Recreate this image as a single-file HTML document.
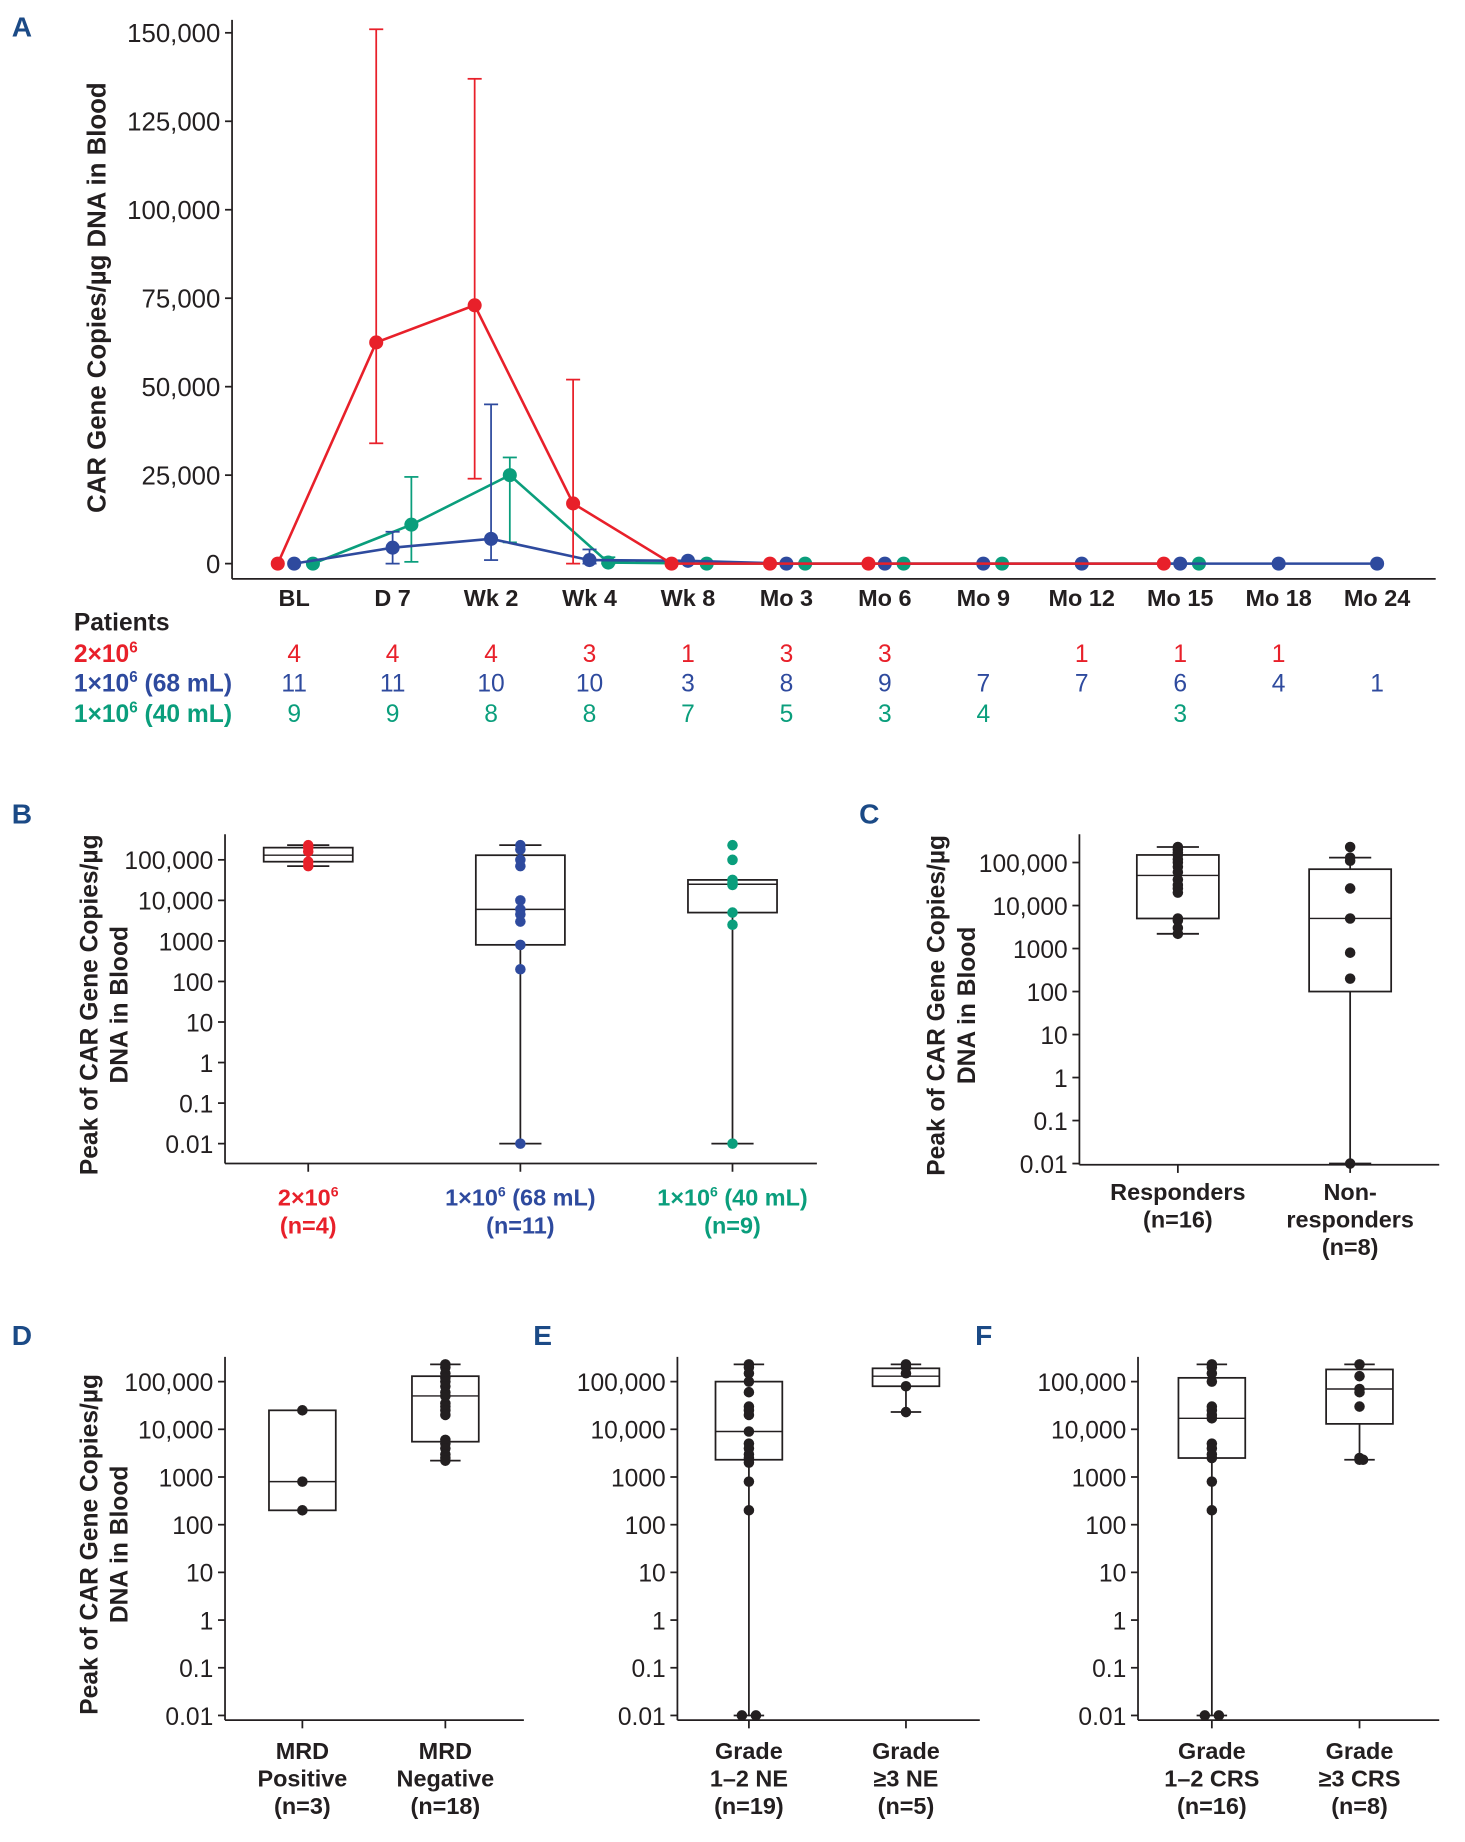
<!DOCTYPE html>
<html><head><meta charset="utf-8"><style>
html,body{margin:0;padding:0;background:#fff}
svg{display:block}
text{font-family:"Liberation Sans",Arial,sans-serif;fill:#231f20}
</style></head><body>
<svg id="fig" width="1465" height="1842" viewBox="0 0 1250 1572" preserveAspectRatio="none" xmlns="http://www.w3.org/2000/svg"></svg>
<script>
// ---------- Panel A data ----------
const timepoints = ["BL","D 7","Wk 2","Wk 4","Wk 8","Mo 3","Mo 6","Mo 9","Mo 12","Mo 15","Mo 18","Mo 24"];
const aTicks = [0,25000,50000,75000,100000,125000,150000];
const redMean = [0,62500,73000,17000,0,0,0,null,null,0,null,null];
const redLo   = [null,34000,24000,0,null,null,null,null,null,null,null,null];
const redHi   = [null,151000,137000,52000,null,null,null,null,null,null,null,null];
const blueMean = [0,4500,7000,1000,800,0,0,0,0,0,0,0];
const blueLo   = [null,0,1000,0,null,null,null,null,null,null,null,null];
const blueHi   = [null,9000,45000,4000,null,null,null,null,null,null,null,null];
const greenMean = [0,11000,25000,300,0,0,0,0,null,0,null,null];
const greenLo   = [null,500,6000,0,null,null,null,null,null,null,null,null];
const greenHi   = [null,24500,30000,1800,null,null,null,null,null,null,null,null];
const nRed   = ["4","4","4","3","1","3","3","","1","1","1",""];
const nBlue  = ["11","11","10","10","3","8","9","7","7","6","4","1"];
const nGreen = ["9","9","8","8","7","5","3","4","","3","",""];

// ---------- Box panel data ----------
const logTicks = [0.01,0.1,1,10,100,1000,10000,100000];
const logTickLabels = ["0.01","0.1","1","10","100","1000","10,000","100,000"];
const bStats = [[70000,90000,130000,200000,230000],[0.01,800,6000,130000,230000],[0.01,5000,25000,32000,32000]];
const bPts = [[230000,200000,160000,90000,70000],[230000,180000,100000,70000,10000,6000,4500,3000,800,200,0.01],[230000,100000,32000,28000,25000,24000,5000,2500,0.01]];
const cStats = [[2200,5000,50000,150000,230000],[0.01,100,5000,70000,130000]];
const cPts = [[230000,200000,170000,150000,120000,100000,80000,60000,40000,30000,25000,20000,5000,4500,3000,2200],[230000,130000,110000,25000,5000,800,200,0.01]];
const dStats = [[200,200,800,25000,25000],[2200,5500,50000,130000,230000]];
const dPts = [[25000,800,200],[230000,200000,150000,120000,100000,80000,60000,50000,35000,30000,25000,20000,6000,5000,4000,3000,2500,2200]];
const eStats = [[0.01,2300,9000,100000,230000],[23000,80000,130000,190000,230000]];
const ePts = [[230000,200000,150000,100000,60000,30000,25000,20000,9000,5000,4000,3000,2500,2300,800,200,0.01,0.01,2000],[230000,200000,150000,80000,23000]];
const fStats = [[0.01,2500,17000,120000,230000],[2300,13000,70000,180000,230000]];
const fPts = [[230000,200000,150000,100000,30000,25000,20000,17000,5000,4000,3000,2500,800,200,0.01,0.01],[230000,130000,70000,60000,30000,2500,2300,2300]];

const RED="#e8202a", BLUE="#2e4a9e", GREEN="#0a9e7c", INK="#231f20", LET="#1b4a86";
const svg=document.getElementById('fig');
const NS="http://www.w3.org/2000/svg";
function mk(tag,attrs,parent){const e=document.createElementNS(NS,tag);for(const k in attrs)e.setAttribute(k,attrs[k]);(parent||svg).appendChild(e);return e;}
function txt(s,x,y,o,parent){const e=mk('text',Object.assign({x:x,y:y},o||{}),parent);e.textContent=s;return e;}
function fmt(v){return v.toLocaleString('en-US');}

// ---------- Panel A ----------
const gA=mk('g',{});


const aX0=251, aDX=84;
function ax(i){return aX0+i*aDX;}
function ay(v){return 481-v*(453/150000);}
let t=txt('A',10,31,{'font-size':24,'font-weight':'bold',style:'fill:'+LET},gA);

mk('line',{x1:198,y1:17,x2:198,y2:494,stroke:INK,'stroke-width':1.5},gA);
mk('line',{x1:198,y1:494,x2:1225,y2:494,stroke:INK,'stroke-width':1.5},gA);
aTicks.forEach(v=>{
  mk('line',{x1:192,y1:ay(v),x2:198,y2:ay(v),stroke:INK,'stroke-width':1.5},gA);
  const e=txt(fmt(v),188,ay(v)+8,{'text-anchor':'end','font-size':22},gA);
  
});
t=txt('CAR Gene Copies/µg DNA in Blood',0,0,{'font-size':22,'font-weight':'bold','text-anchor':'middle',transform:'translate(90,254) rotate(-90)'},gA);

timepoints.forEach((c,i)=>{
  const e=txt(c,ax(i),517,{'text-anchor':'middle','font-size':20,'font-weight':'bold'},gA);
  
});
function series(mean,lo,hi,col,off,name){
  const g=mk('g',{},gA);
  
  
  let pts=[];mean.forEach((v,i)=>{if(v!==null)pts.push((ax(i)+off)+','+ay(v));});
  mk('polyline',{points:pts.join(' '),fill:'none',stroke:col,'stroke-width':2.2},g);
  mean.forEach((v,i)=>{
    if(lo[i]!==null){const x=ax(i)+off;
      mk('line',{x1:x,y1:ay(lo[i]),x2:x,y2:ay(hi[i]),stroke:col,'stroke-width':1.5},g);
      mk('line',{x1:x-6,y1:ay(lo[i]),x2:x+6,y2:ay(lo[i]),stroke:col,'stroke-width':1.5},g);
      mk('line',{x1:x-6,y1:ay(hi[i]),x2:x+6,y2:ay(hi[i]),stroke:col,'stroke-width':1.5},g);}
  });
  mean.forEach((v,i)=>{if(v!==null){const c=mk('circle',{cx:ax(i)+off,cy:ay(v),r:6,fill:col},g);
    }});
}
series(greenMean,greenLo,greenHi,GREEN,16,'series-1e6-40ml');
series(blueMean,blueLo,blueHi,BLUE,0,'series-1e6-68ml');
series(redMean,redLo,redHi,RED,-14,'series-2e6');
// patients table
const gT=mk('g',{});


txt('Patients',63,538,{'font-size':21,'font-weight':'bold'},gT);
const rows=[[nRed,RED,'2×10',565],[nBlue,BLUE,'1×10',590],[nGreen,GREEN,'1×10',616]];
const suff=['',' (68 mL)',' (40 mL)'];
rows.forEach((r,k)=>{
  const e=mk('text',{x:63,y:r[3],'font-size':21,'font-weight':'bold',style:'fill:'+r[1]},gT);
  
  e.innerHTML=r[2]+'<tspan dy="-8" font-size="13">6</tspan><tspan dy="8">'+suff[k]+'</tspan>';
  r[0].forEach((v,i)=>{if(v){const c=txt(v,ax(i),r[3],{'text-anchor':'middle','font-size':21,style:'fill:'+r[1]},gT);
    }});
});

// ---------- Box panels ----------
function boxPanel(cfg){
  const g=mk('g',{});
  
  
  const ly=v=>cfg.y0-(Math.log10(v)+2)*cfg.dec;
  const l=txt(cfg.letter,cfg.lx,cfg.ly,{'font-size':24,'font-weight':'bold',style:'fill:'+LET},g);
  
  mk('line',{x1:cfg.axX,y1:cfg.top,x2:cfg.axX,y2:cfg.bot,stroke:INK,'stroke-width':1.5},g);
  mk('line',{x1:cfg.axX,y1:cfg.bot,x2:cfg.right,y2:cfg.bot,stroke:INK,'stroke-width':1.5},g);
  logTicks.forEach((v,i)=>{
    mk('line',{x1:cfg.axX-6,y1:ly(v),x2:cfg.axX,y2:ly(v),stroke:INK,'stroke-width':1.5},g);
    const e=txt(logTickLabels[i],cfg.axX-10,ly(v)+8,{'text-anchor':'end','font-size':21},g);
    
  });
  if(cfg.title){
    const yc=(cfg.top+cfg.bot)/2+5;
    const a=txt('Peak of CAR Gene Copies/µg',0,0,{'font-size':21,'font-weight':'bold','text-anchor':'middle',transform:'translate('+cfg.tx+','+yc+') rotate(-90)'},g);
    
    const b=txt('DNA in Blood',0,0,{'font-size':21,'font-weight':'bold','text-anchor':'middle',transform:'translate('+(cfg.tx+26)+','+yc+') rotate(-90)'},g);
    
  }
  cfg.stats.forEach((s,i)=>{
    const x=cfg.cx[i], hw=cfg.hw, cw=cfg.cw;
    mk('line',{x1:x,y1:cfg.bot,x2:x,y2:cfg.bot+7,stroke:INK,'stroke-width':1.5},g);
    const bg=mk('g',{},g);
    
    
    mk('line',{x1:x,y1:ly(s[0]),x2:x,y2:ly(s[1]),stroke:INK,'stroke-width':1.5},bg);
    mk('line',{x1:x,y1:ly(s[3]),x2:x,y2:ly(s[4]),stroke:INK,'stroke-width':1.5},bg);
    if(s[0]!==s[1]) mk('line',{x1:x-cw,y1:ly(s[0]),x2:x+cw,y2:ly(s[0]),stroke:INK,'stroke-width':1.5},bg);
    if(s[4]!==s[3]) mk('line',{x1:x-cw,y1:ly(s[4]),x2:x+cw,y2:ly(s[4]),stroke:INK,'stroke-width':1.5},bg);
    mk('rect',{x:x-hw,y:ly(s[3]),width:2*hw,height:ly(s[1])-ly(s[3]),fill:'none',stroke:INK,'stroke-width':1.5},bg);
    mk('line',{x1:x-hw,y1:ly(s[2]),x2:x+hw,y2:ly(s[2]),stroke:INK,'stroke-width':1.2},bg);
    const col=cfg.colors[i];
    const seen={};
    cfg.pts[i].forEach(v=>{
      const k=v;seen[k]=(seen[k]||0)+1;
      const off=(v===0.01)?(seen[k]===1?(cfg.pts[i].filter(q=>q===0.01).length>1?-6:0):6):((seen[k]%2)?0:3);
      const c=mk('circle',{cx:x+off,cy:ly(v),r:4.5,fill:col},bg);
      
    });
    cfg.labels[i].forEach((ln,j)=>{
      const e=mk('text',{x:x,y:cfg.laby+j*23.5,'text-anchor':'middle','font-size':20,'font-weight':'bold',style:'fill:'+cfg.lcol[i]},g);
      
      e.innerHTML=ln;
    });
  });
}
const sup6='<tspan dy="-8" font-size="12">6</tspan><tspan dy="8">';
boxPanel({name:'panel-b-by-dose',letter:'B',lx:10,ly:703,axX:192,top:712,bot:993,right:697,y0:976,dec:34.6,hw:38,cw:18,cx:[263,444,625],
  stats:bStats,pts:bPts,colors:[RED,BLUE,GREEN],lcol:[RED,BLUE,GREEN],title:true,tx:83,laby:1029,
  labels:[['2×10'+sup6+'</tspan>','(n=4)'],['1×10'+sup6+' (68 mL)</tspan>','(n=11)'],['1×10'+sup6+' (40 mL)</tspan>','(n=9)']]});
boxPanel({name:'panel-c-by-response',letter:'C',lx:733,ly:703,axX:921,top:712,bot:994,right:1228,y0:993,dec:36.7,hw:35,cw:18,cx:[1005,1152],
  stats:cStats,pts:cPts,colors:[INK,INK],lcol:[INK,INK],title:true,tx:806,laby:1024,
  labels:[['Responders','(n=16)'],['Non-','responders','(n=8)']]});
boxPanel({name:'panel-d-by-mrd',letter:'D',lx:10,ly:1148,axX:192,top:1158,bot:1468,right:447,y0:1464,dec:40.7,hw:28.5,cw:13,cx:[258,380],
  stats:dStats,pts:dPts,colors:[INK,INK],lcol:[INK,INK],title:true,tx:83,laby:1501,
  labels:[['MRD','Positive','(n=3)'],['MRD','Negative','(n=18)']]});
boxPanel({name:'panel-e-by-ne-grade',letter:'E',lx:455,ly:1148,axX:578,top:1158,bot:1468,right:836,y0:1464,dec:40.7,hw:28.5,cw:13,cx:[639,773],
  stats:eStats,pts:ePts,colors:[INK,INK],lcol:[INK,INK],title:false,laby:1501,
  labels:[['Grade','1–2 NE','(n=19)'],['Grade','≥3 NE','(n=5)']]});
boxPanel({name:'panel-f-by-crs-grade',letter:'F',lx:832,ly:1148,axX:971,top:1158,bot:1468,right:1228,y0:1464,dec:40.7,hw:28.5,cw:13,cx:[1034,1160],
  stats:fStats,pts:fPts,colors:[INK,INK],lcol:[INK,INK],title:false,laby:1501,
  labels:[['Grade','1–2 CRS','(n=16)'],['Grade','≥3 CRS','(n=8)']]});
</script>
</body></html>
